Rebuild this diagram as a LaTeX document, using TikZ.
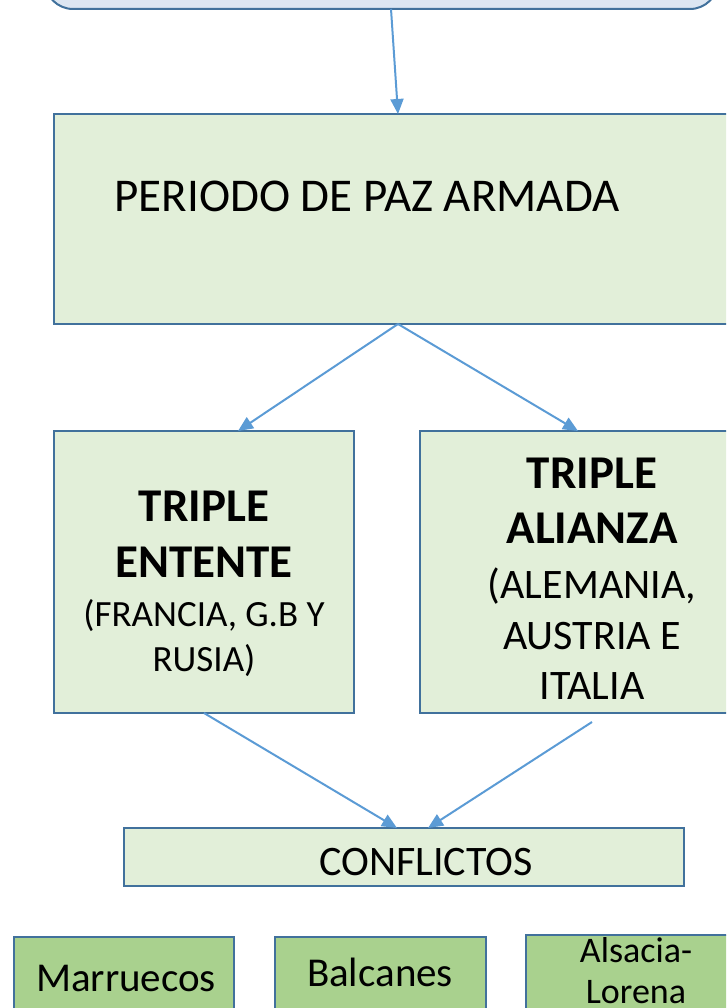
\documentclass[tikz,border=0pt]{standalone}
\usepackage{fontspec}
\setmainfont{Carlito}
\usetikzlibrary{arrows.meta}
\definecolor{bordc}{RGB}{65,113,156}
\definecolor{arrc}{RGB}{91,155,213}
\definecolor{lgreen}{RGB}{226,239,217}
\definecolor{lblue}{RGB}{220,230,242}
\definecolor{mgreen}{RGB}{169,209,142}
\tikzset{
  box/.style={draw=bordc, line width=2pt, fill=lgreen, inner sep=0pt, outer sep=0pt},
  gbox/.style={box, fill=mgreen},
  conn/.style={draw=arrc, line width=2pt, -{Triangle[length=15pt,width=13pt]}},
  txt/.style={anchor=base, inner sep=0pt, text=black},
}
\begin{document}
\begin{tikzpicture}[x=1pt,y=-1pt]
\useasboundingbox (0,0) rectangle (726,1008);
\clip (0,0) rectangle (726,1008);
\node[box, fill=lblue, rounded corners=28pt, minimum width=673pt, minimum height=49pt] (top) at (381.5,-15.5) {};
\node[box, minimum width=688pt, minimum height=210pt] (paz) at (398,219) {};
\node[box, minimum width=300pt, minimum height=282pt] (te) at (204,572) {};
\node[box, minimum width=344pt, minimum height=282pt] (ta) at (592,572) {};
\node[box, minimum width=560pt, minimum height=58pt] (conf) at (404,857) {};
\node[gbox, minimum width=220pt, minimum height=103pt] (mar) at (124,988.5) {};
\node[gbox, minimum width=211pt, minimum height=103pt] (bal) at (380.5,988.5) {};
\node[gbox, minimum width=220pt, minimum height=105pt] (als) at (636,987.5) {};

\node[txt, font=\fontsize{47}{56}\selectfont] (tpaz) at (367,212) {PERIODO DE PAZ ARMADA};

\node[txt, font=\fontsize{47}{56}\selectfont\bfseries] (te1) at (204,521) {TRIPLE};
\node[txt, font=\fontsize{47}{56}\selectfont\bfseries] (te2) at (204,577) {ENTENTE};
\node[txt, font=\fontsize{37}{45}\selectfont] (te3) at (204,626) {(FRANCIA, G.B Y};
\node[txt, font=\fontsize{37}{45}\selectfont] (te4) at (204,671) {RUSIA)};

\node[txt, font=\fontsize{47}{56}\selectfont\bfseries] (ta1) at (592,488) {TRIPLE};
\node[txt, font=\fontsize{47}{56}\selectfont\bfseries] (ta2) at (592,543) {ALIANZA};
\node[txt, font=\fontsize{42}{51}\selectfont] (ta3) at (592,598) {(ALEMANIA,};
\node[txt, font=\fontsize{42}{51}\selectfont] (ta4) at (592,649) {AUSTRIA E};
\node[txt, font=\fontsize{42}{51}\selectfont] (ta5) at (592,699) {ITALIA};

\node[txt, font=\fontsize{42}{51}\selectfont] (tconf) at (426,875) {CONFLICTOS};

\node[txt, font=\fontsize{41}{50}\selectfont] (tmar) at (126,991) {Marruecos};
\node[txt, font=\fontsize{41}{50}\selectfont] (tbal) at (380,986) {Balcanes};
\node[txt, font=\fontsize{36}{42}\selectfont] (tals1) at (636,962) {Alsacia-};
\node[txt, font=\fontsize{36}{42}\selectfont] (tals2) at (636,1003) {Lorena};

\draw[conn] ([xshift=9.5pt]top.south) -- (paz.north);
\draw[conn] (paz.south) -- ([xshift=34pt]te.north);
\draw[conn] (paz.south) -- ([xshift=-14pt]ta.north);
\draw[conn] (te.south) -- ([xshift=-7pt]conf.north);
\draw[conn] ([yshift=-9pt]ta.south) -- ([xshift=24pt]conf.north);
\end{tikzpicture}
\end{document}
